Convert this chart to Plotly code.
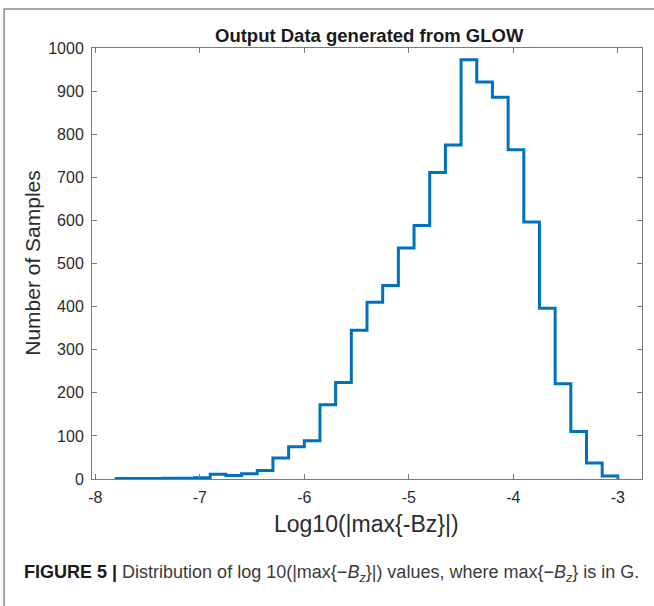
import numpy as np
import plotly.graph_objects as go

# Histogram of log10(|max{-Bz}|): 32 bins of width 0.15 starting at -7.8
bin_start = -7.8
bin_width = 0.15
counts = [1, 1, 1, 2, 2, 3, 11, 8, 12, 20, 49, 75, 89, 172, 224, 345,
          410, 449, 536, 588, 711, 775, 973, 921, 886, 764, 596, 396, 221, 110, 37, 7]

x_ticks = [-8, -7, -6, -5, -4, -3]
y_ticks = [0, 100, 200, 300, 400, 500, 600, 700, 800, 900, 1000]

edges = bin_start + bin_width * np.arange(len(counts) + 1)

# stairs outline: rise at first edge, steps across the bins, drop at last edge
xs = [edges[0]] + list(edges[:-1]) + [edges[-1], edges[-1]]
ys = [0] + counts + [counts[-1], 0]

FONT = "Liberation Sans, Arial, Helvetica, sans-serif"
AX = "#7a7a7a"
TXT = "#2b2b2b"

W, H = 654, 606
L, R, T, B = 92.3, 641.7, 47.7, 479.0

fig = go.Figure()
fig.add_trace(go.Scatter(
    x=xs, y=ys, mode="lines", line=dict(color="#0072BD", width=3, shape="hv"),
    hoverinfo="skip", showlegend=False,
))

axis_common = dict(
    showgrid=False, zeroline=False, showline=True, linecolor=AX, linewidth=1,
    mirror="ticks", ticks="inside", ticklen=5, tickcolor=AX, tickwidth=1,
    tickfont=dict(family=FONT, size=16, color=TXT), ticklabelstandoff=4,
)

fig.update_xaxes(range=[-8.031, -2.769], tickvals=x_ticks,
                 ticktext=[str(v) for v in x_ticks], **axis_common)
fig.update_yaxes(range=[0, 1000], tickvals=y_ticks,
                 ticktext=[str(v) for v in y_ticks], **axis_common)


def px_x(p):
    return (p - L) / (R - L)


def px_y(p):
    return (B - p) / (B - T)


annotations = [
    dict(text="<b>Output Data generated from GLOW</b>", x=px_x(369), y=px_y(35),
         font=dict(family=FONT, size=18.5, color="#1a1a1a")),
    dict(text="Log10(|max{-Bz}|)", x=px_x(367), y=px_y(524),
         font=dict(family=FONT, size=23, color=TXT)),
    dict(text="Number of Samples", x=px_x(33), y=px_y(263), textangle=-90,
         font=dict(family=FONT, size=21, color=TXT)),
    dict(text="<b>FIGURE 5 |</b> <span style='color:#3a3a3a'>Distribution of log 10(|max{−<i>B</i><sub><i>z</i></sub>}|) values, "
              "where max{−<i>B</i><sub><i>z</i></sub>} is in G.</span>",
         x=px_x(22), y=px_y(574), xanchor="left",
         font=dict(family=FONT, size=18, color="#1a1a1a")),
]
for a in annotations:
    a.setdefault("xanchor", "center")
    a.update(xref="paper", yref="paper", yanchor="middle", showarrow=False)

# outer figure frame
fig.add_shape(type="rect", xref="paper", yref="paper",
              x0=px_x(4.5), x1=px_x(660), y0=px_y(610), y1=px_y(8.7),
              line=dict(color="#8a8a8a", width=1.5), layer="below")

fig.update_layout(
    width=W, height=H,
    margin=dict(l=L, r=W - R, t=T, b=H - B),
    paper_bgcolor="white", plot_bgcolor="white",
    annotations=annotations,
)

fig.write_html("out.html")
